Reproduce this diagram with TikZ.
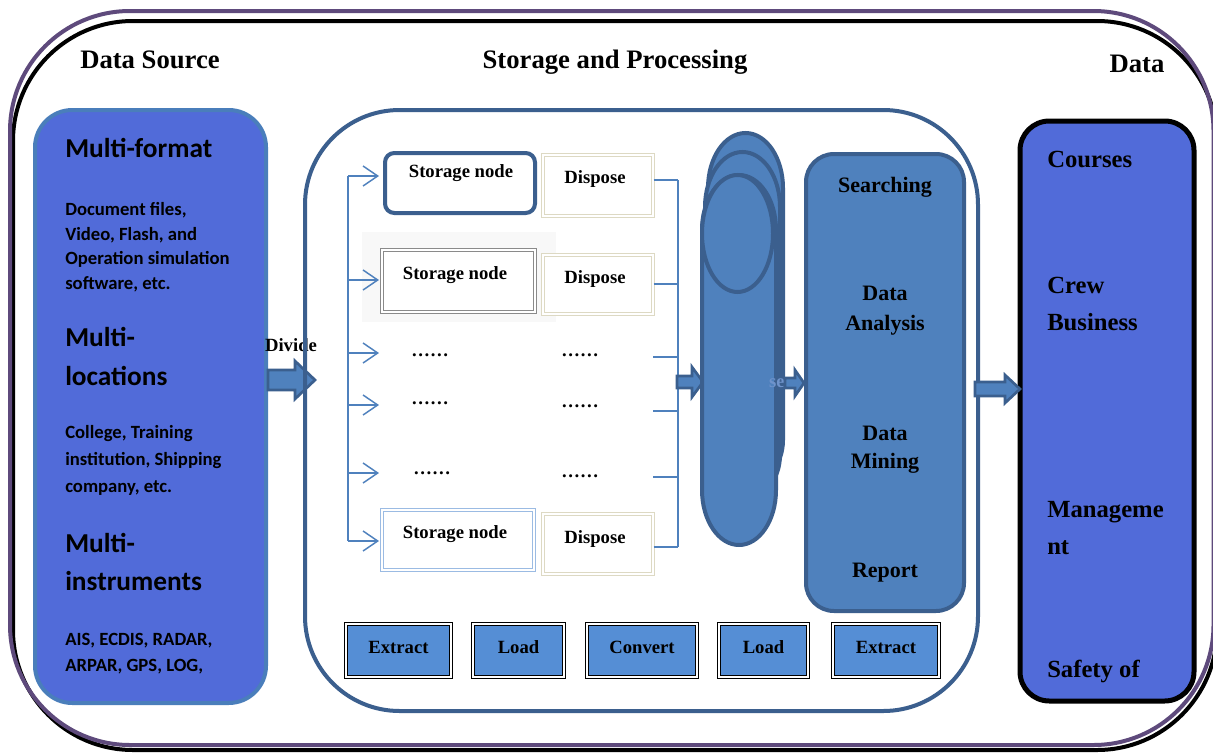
\documentclass[tikz,border=0pt]{standalone}
\usepackage{fontspec}
\setmainfont{Liberation Serif}
\newfontfamily\carl{Carlito}
\usetikzlibrary{arrows.meta,fit}
\definecolor{frameP}{HTML}{5E4A7C}
\definecolor{srcfill}{HTML}{516BD9}
\definecolor{srcedge}{HTML}{4A7EBB}
\definecolor{dkblue}{HTML}{3B5F8E}
\definecolor{midblue}{HTML}{4F81BD}
\definecolor{btnblue}{HTML}{558ED5}
\definecolor{beige}{HTML}{DDD9C3}
\definecolor{ltblue}{HTML}{9BBBE3}
\definecolor{grayb}{HTML}{8A8A8A}
\definecolor{faintse}{HTML}{6F93CB}
\definecolor{faintgray}{HTML}{F8F8F8}
\newcommand{\blockarr}[6]{%
  \draw[blockarrow] (#1,#4-#5) -- (#2,#4-#5) -- (#2,#4-#6) -- (#3,#4) -- (#2,#4+#6) -- (#2,#4+#5) -- (#1,#4+#5) -- cycle;}
\begin{document}
\begin{tikzpicture}[x=0.75pt,y=-0.75pt,
  title/.style={font=\fontsize{20}{24}\selectfont\bfseries, anchor=base, inner sep=0},
  bigS/.style={font=\carl\fontsize{20.5}{24}\selectfont\bfseries, anchor=base west, inner sep=0},
  smallS/.style={font=\carl\fontsize{14}{17}\selectfont\bfseries, anchor=base west, inner sep=0},
  lbl/.style={font=\fontsize{14}{17}\selectfont\bfseries, anchor=base, inner sep=0},
  proc/.style={font=\fontsize{16.5}{20}\selectfont\bfseries, anchor=base, inner sep=0},
  outtxt/.style={font=\fontsize{18.5}{22}\selectfont\bfseries, anchor=base west, inner sep=0},
  dbl/.style={inner sep=0, double=white, double distance=1.5pt, line width=0.8pt},
  btn/.style={inner sep=0, draw=black, double=white, double distance=1.6pt, line width=0.9pt, fill=btnblue},
  blockarrow/.style={fill=midblue, draw=dkblue, line width=2pt, line join=miter},
  thinline/.style={draw=midblue, line width=1.1pt},
  thinarrow/.style={draw=midblue, line width=1.1pt, -{Straight Barb[length=11pt,width=15pt,line width=1.1pt]}},
  capsule/.style={fill=midblue, draw=dkblue, line width=3pt}
]
\useasboundingbox (0,0) rectangle (1213,753);
\fill[white] (0,0) rectangle (1213,753);

% outer frame
\draw[black, line width=3pt, rounded corners=90pt] (13,21) rectangle (1217,750);
\draw[frameP, line width=3pt, rounded corners=90pt] (10,11) rectangle (1213.5,745);

% titles
\node[title] (tsrc) at (150,68) {Data Source};
\node[title] (tsp) at (615,68) {Storage and Processing};
\node[title] (tdata) at (1137,72) {Data};

% data source box
\node[fit={(35,110)(266,703)}, inner sep=0, draw=srcedge, fill=srcfill, line width=3pt, rounded corners=28pt] (src) {};
\node[bigS] (s1) at (65,157) {Multi-format};
\node[smallS] (s2) at (65,215) {Document files,};
\node[smallS] (s3) at (65,240) {Video, Flash, and};
\node[smallS] (s4) at (65,264) {Operation simulation};
\node[smallS] (s5) at (65,289) {software, etc.};
\node[bigS] (s6) at (65,346) {Multi-};
\node[bigS] (s7) at (65,385) {locations};
\node[smallS] (s8) at (65,438) {College, Training};
\node[smallS] (s9) at (65,465) {institution, Shipping};
\node[smallS] (s10) at (65,492) {company, etc.};
\node[bigS] (s11) at (65,552) {Multi-};
\node[bigS] (s12) at (65,590) {instruments};
\node[smallS] (s13) at (65,645) {AIS, ECDIS, RADAR,};
\node[smallS] (s14) at (65,671) {ARPAR, GPS, LOG,};

% divide arrow
\node[lbl] (divt) at (291,351) {Divide};
\blockarr{268}{295}{315}{380}{10}{19}

% container
\node[fit={(305,110)(978,711)}, inner sep=0, draw=dkblue, line width=3pt, rounded corners=71pt] (cont) {};

% faint shade behind second storage node
\fill[faintgray] (362,232) rectangle (556,322);

% storage nodes
\node[fit={(385,153)(535,213)}, inner sep=0, draw=dkblue, line width=3pt, rounded corners=7pt] (sn1) {};
\node[fit={(382,250)(535,312)}, dbl, draw=grayb, fill=white] (sn2) {};
\node[fit={(382,510)(534,570)}, dbl, draw=ltblue] (sn3) {};
\node[lbl] (sn1t) at (461,177) {Storage node};
\node[lbl] (sn2t) at (455,279) {Storage node};
\node[lbl] (sn3t) at (455,538) {Storage node};

% dispose
\node[fit={(543,155)(653,216)}, dbl, draw=beige, fill=white] (dp1) {};
\node[fit={(543,255)(653,314)}, dbl, draw=beige, fill=white] (dp2) {};
\node[fit={(543,514)(653,574)}, dbl, draw=beige, fill=white] (dp3) {};
\node[lbl] (dp1t) at (595,183) {Dispose};
\node[lbl] (dp2t) at (595,283) {Dispose};
\node[lbl] (dp3t) at (595,543) {Dispose};

% dots
\node[lbl] (dl1) at (430,356) {……};
\node[lbl] (dl2) at (430,404) {……};
\node[lbl] (dl3) at (432,474) {……};
\node[lbl] (dr1) at (580,356) {……};
\node[lbl] (dr2) at (580,407) {……};
\node[lbl] (dr3) at (580,477) {……};

% distribution lines
\coordinate (d1) at (348,176);
\coordinate (d2) at (348,280);
\coordinate (d3) at (348,353);
\coordinate (d4) at (348,405);
\coordinate (d5) at (348,473);
\coordinate (d6) at (348,541);
\coordinate (t1) at (379,176);
\coordinate (t2) at (379,280);
\coordinate (t3) at (379,353);
\coordinate (t4) at (379,405);
\coordinate (t5) at (379,473);
\coordinate (t6) at (379,541);
\draw[thinline] (d1) -- (d6);
\foreach \i in {1,...,6}{\draw[thinarrow] (d\i) -- (t\i);}

% collection lines
\coordinate (c1) at (678,180);
\coordinate (c2) at (678,284);
\coordinate (c3) at (678,357);
\coordinate (c4) at (678,411);
\coordinate (c5) at (678,477);
\coordinate (c6) at (678,547);
\coordinate (e3) at (653,357);
\coordinate (e4) at (653,411);
\coordinate (e5) at (653,477);
\draw[thinline] (c1) -- (c6);
\draw[thinline] (dp1.east|-c1) -- (c1);
\draw[thinline] (dp2.east|-c2) -- (c2);
\draw[thinline] (e3) -- (c3);
\draw[thinline] (e4) -- (c4);
\draw[thinline] (e5) -- (c5);
\draw[thinline] (dp3.east|-c6) -- (c6);

% arrow into database
\blockarr{677}{692}{703}{382}{6}{15}

% database capsules
\draw[capsule] (708,188) arc[start angle=180,end angle=360,x radius=37.5,y radius=55] -- (783,440) arc[start angle=0,end angle=180,x radius=37.5,y radius=45] -- cycle;
\draw[capsule] (705,207) arc[start angle=180,end angle=360,x radius=37.5,y radius=55] -- (780,455) arc[start angle=0,end angle=180,x radius=37.5,y radius=45] -- cycle;
\draw[capsule] (702,230) arc[start angle=180,end angle=360,x radius=37,y radius=55] -- (776,490) arc[start angle=0,end angle=180,x radius=37,y radius=55] -- cycle;
\draw[capsule] (737.5,233.5) ellipse[x radius=35.5, y radius=58.5];
\node[font=\fontsize{14}{17}\selectfont\bfseries, text=faintse, anchor=base, inner sep=0] (se) at (777,387) {se};

% arrow to processing
\blockarr{785}{795}{804}{383}{5}{13}

% processing box
\node[fit={(806,154)(964,611)}, inner sep=0, fill=midblue, draw=dkblue, line width=3pt, rounded corners=21pt] (proc) {};
\node[proc] (p1) at (885,192) {Searching};
\node[proc] (p2) at (885,300) {Data};
\node[proc] (p3) at (885,330) {Analysis};
\node[proc] (p4) at (885,440) {Data};
\node[proc] (p5) at (885,468) {Mining};
\node[proc] (p6) at (885,577) {Report};

% output box
\node[fit={(1020,121)(1194,701)}, inner sep=0, fill=srcfill, draw=black, line width=3.75pt, rounded corners=22pt] (out) {};
\node[outtxt] (o1) at (1047,167) {Courses};
\node[outtxt] (o2) at (1047,293) {Crew};
\node[outtxt] (o3) at (1047,330) {Business};
\node[outtxt] (o4) at (1047,517) {Manageme};
\node[outtxt] (o5) at (1047,554) {nt};
\node[outtxt] (o6) at (1047,677) {Safety of};

% arrow to output
\blockarr{975}{1005}{1020}{389}{7}{14}

% bottom buttons
\node[fit={(346,624)(451,677)}, btn] (b1) {};
\node[fit={(473,624)(564,677)}, btn] (b2) {};
\node[fit={(587,624)(697,677)}, btn] (b3) {};
\node[fit={(719,624)(808,677)}, btn] (b4) {};
\node[fit={(833,624)(939,677)}, btn] (b5) {};
\node[lbl] (b1t) at (b1.center|-0,653) {Extract};
\node[lbl] (b2t) at (b2.center|-0,653) {Load};
\node[lbl] (b3t) at (b3.center|-0,653) {Convert};
\node[lbl] (b4t) at (b4.center|-0,653) {Load};
\node[lbl] (b5t) at (b5.center|-0,653) {Extract};
\end{tikzpicture}
\end{document}
